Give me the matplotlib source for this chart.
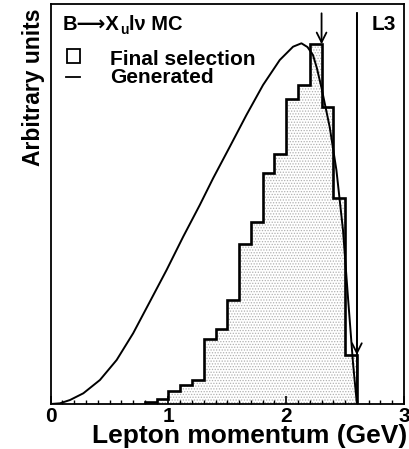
import matplotlib
matplotlib.use('Agg')
import matplotlib.pyplot as plt
from matplotlib.patches import Rectangle
from matplotlib.lines import Line2D
from matplotlib.ticker import MultipleLocator

FONTS = ['Liberation Sans', 'DejaVu Sans']
plt.rcParams['font.family'] = FONTS
plt.rcParams['font.weight'] = 'bold'
plt.rcParams['hatch.linewidth'] = 0.6

# Final selection histogram (0.1 GeV bins, arbitrary units)
bin_edges = [0.8, 0.9, 1.0, 1.1, 1.2, 1.3, 1.4, 1.5, 1.6, 1.7, 1.8, 1.9,
             2.0, 2.1, 2.2, 2.3, 2.4, 2.5, 2.6]
sel_counts = [2.3, 4.7, 12.7, 19, 24, 64.7, 75.5, 104, 159.7, 182.3, 231.3,
              250, 304.7, 319, 359.7, 297.3, 205.7, 49]

# Generated spectrum
gen_p = [0, 0.079, 0.164, 0.277, 0.418, 0.56, 0.70, 0.842, 0.984, 1.125,
         1.266, 1.379, 1.521, 1.662, 1.803, 1.945, 2.058, 2.129, 2.18, 2.227,
         2.26, 2.298, 2.369, 2.426, 2.482, 2.524, 2.567, 2.6]
gen_y = [0, 0.7, 4, 10.7, 24, 44, 70.7, 102.3, 134, 167.3, 199, 225.7, 257.3,
         289, 319, 344, 357.3, 360.7, 357, 349, 336, 317, 277, 234, 174, 107,
         41, 0]

# momentum cuts and height of the cut markers
cut_p = [2.3, 2.6]
cut_top = 390.7

fig = plt.figure(figsize=(4.09, 4.49), dpi=100)
ax = fig.add_axes([50.7 / 409, 45 / 449, 353.3 / 409, 400 / 449])

ax.stairs(sel_counts, bin_edges, fill=True, hatch='......',
          facecolor='white', edgecolor='#b0b0b0', linewidth=0)
ax.stairs(sel_counts, bin_edges, color='black', linewidth=1.9)
ax.plot(gen_p, gen_y, color='black', linewidth=1.4)

# cut markers
ax.plot([cut_p[1], cut_p[1]], [0, cut_top], color='black', linewidth=1.3)
for p in cut_p:
    tip = sel_counts[bin_edges.index(p) - 1]
    ax.annotate('', xy=(p, tip), xytext=(p, cut_top),
                arrowprops=dict(arrowstyle='->,head_length=0.7,head_width=0.35',
                                color='black', lw=1.3, shrinkA=0, shrinkB=0))

ax.set_xlim(0, 3)
ax.set_ylim(0, 400)
ax.xaxis.set_major_locator(MultipleLocator(1))
ax.xaxis.set_minor_locator(MultipleLocator(0.1))
ax.tick_params(axis='x', which='both', direction='in', labelsize=15, pad=2)
ax.tick_params(axis='x', which='major', length=6, width=1.2)
ax.tick_params(axis='x', which='minor', length=3, width=1)
ax.set_yticks([])
for s in ax.spines.values():
    s.set_linewidth(1.3)

# process label, built in pieces so the u sits as a subscript
tkw = dict(transform=ax.transAxes, va='baseline', ha='left')
t1 = ax.text(0.035, 0.935, 'B⟶X', fontsize=14.5, family=FONTS, **tkw)
t2 = ax.annotate('u', xy=(1, 0), xycoords=t1, xytext=(0.3, -2.5),
                 textcoords='offset points', fontsize=10, va='bottom')
ax.annotate('lν MC', xy=(1, 0), xycoords=(t2, t1), xytext=(0.5, 0),
            textcoords='offset points', fontsize=14.5, va='bottom')

ax.text(0.909, 0.935, 'L3', fontsize=15, **tkw)
ax.add_patch(Rectangle((0.046, 0.8525), 0.037, 0.035, transform=ax.transAxes,
                       fill=False, linewidth=1.3, edgecolor='black'))
ax.add_line(Line2D([0.044, 0.083], [0.8175, 0.8175], transform=ax.transAxes,
                   color='black', linewidth=1.3))
ax.text(0.168, 0.8475, 'Final selection', fontsize=15, **tkw)
ax.text(0.168, 0.8015, 'Generated', fontsize=15, **tkw)

fig.text(407 / 409, 6 / 449, 'Lepton momentum (GeV)', fontsize=19,
         ha='right', va='baseline')
fig.text(33.5 / 409, 1 - 8 / 449, 'Arbitrary units', fontsize=16.5,
         rotation=90, ha='center', va='top')

fig.savefig('out.png', dpi=100)
